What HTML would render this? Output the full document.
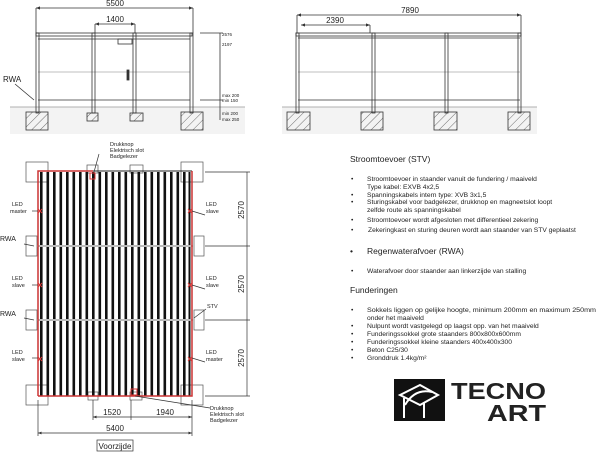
<!DOCTYPE html>
<html><head><meta charset="utf-8"><style>
body{margin:0;background:#fff;width:600px;height:454px;overflow:hidden}
svg{display:block}
text{font-family:"Liberation Sans",sans-serif;fill:#222}
</style></head><body>
<svg width="600" height="454" viewBox="0 0 600 454" xmlns="http://www.w3.org/2000/svg">
<defs>
<pattern id="h" width="6" height="6" patternUnits="userSpaceOnUse" patternTransform="rotate(45)"><line x1="0" y1="0" x2="0" y2="6" stroke="#333" stroke-width="0.7"/></pattern>
<marker id="a" markerWidth="6" markerHeight="6" refX="5" refY="3" orient="auto-start-reverse"><path d="M0,1 L5,3 L0,5" fill="#333"/></marker>
</defs>
<g stroke="#333" stroke-width="0.8" fill="none">
<rect x="10" y="107" width="235" height="27" fill="#f3f3f3" stroke="none"/>
<line x1="10" y1="107" x2="245" y2="107" stroke="#999"/>
<rect x="282" y="107" width="255" height="27" fill="#f3f3f3" stroke="none"/>
<line x1="282" y1="107" x2="537" y2="107" stroke="#999"/>
<rect x="36" y="33" width="156" height="3" fill="#fff"/>
<line x1="38" y1="39" x2="190" y2="39"/>
<line x1="38" y1="72" x2="190" y2="72" stroke="#aaa"/>
<line x1="38" y1="100" x2="190" y2="100"/>
<rect x="36" y="33" width="3" height="80"/><rect x="190" y="33" width="3" height="80"/>
<rect x="92" y="33" width="3" height="80"/><rect x="133" y="33" width="3" height="80"/>
<rect x="118" y="39" width="14" height="5"/>
<rect x="127" y="70" width="2" height="10" fill="#333"/>
<rect x="26" y="112" width="22" height="18" fill="url(#h)"/>
<rect x="181" y="112" width="22" height="18" fill="url(#h)"/>
<rect x="87" y="113" width="11" height="8" fill="url(#h)"/>
<rect x="130" y="113" width="13" height="8" fill="url(#h)"/>
<line x1="36" y1="8" x2="193" y2="8" marker-start="url(#a)" marker-end="url(#a)"/>
<line x1="36" y1="8" x2="36" y2="33"/><line x1="193" y1="8" x2="193" y2="33"/>
<line x1="95" y1="24" x2="135" y2="24" marker-start="url(#a)" marker-end="url(#a)"/>
<line x1="95" y1="24" x2="95" y2="33"/><line x1="135" y1="24" x2="135" y2="33"/>
<line x1="220" y1="33" x2="220" y2="120"/>
<line x1="200" y1="33" x2="223" y2="33"/><line x1="200" y1="100" x2="223" y2="100"/>
<line x1="15" y1="84" x2="34" y2="100"/>
<rect x="296" y="33" width="225" height="3" fill="#fff"/>
<line x1="298" y1="38" x2="520" y2="38"/>
<line x1="298" y1="72" x2="520" y2="72" stroke="#aaa"/>
<line x1="298" y1="100" x2="520" y2="100"/>
<rect x="296" y="33" width="3" height="80"/><rect x="372" y="33" width="3" height="80"/>
<rect x="445" y="33" width="3" height="80"/><rect x="518" y="33" width="3" height="80"/>
<rect x="287" y="112" width="23" height="18" fill="url(#h)"/>
<rect x="361" y="112" width="22" height="18" fill="url(#h)"/>
<rect x="434" y="112" width="23" height="18" fill="url(#h)"/>
<rect x="508" y="112" width="22" height="18" fill="url(#h)"/>
<line x1="297" y1="15" x2="521" y2="15" marker-start="url(#a)" marker-end="url(#a)"/>
<line x1="297" y1="15" x2="297" y2="33"/><line x1="521" y1="15" x2="521" y2="33"/>
<line x1="301" y1="25" x2="370" y2="25" marker-start="url(#a)" marker-end="url(#a)"/>
<line x1="370" y1="25" x2="370" y2="33"/>
</g>
<g font-size="8">
<text x="115" y="6" text-anchor="middle">5500</text>
<text x="115" y="22" text-anchor="middle">1400</text>
<text x="410" y="13" text-anchor="middle">7890</text>
<text x="335" y="23" text-anchor="middle">2390</text>
<text x="3" y="82">RWA</text>
</g>
<g font-size="4.5"><text x="222" y="36">2576</text><text x="222" y="46">2197</text>
<text x="222" y="97">max 200</text><text x="222" y="102">min 150</text>
<text x="222" y="115">min 200</text><text x="222" y="121">max 250</text></g>
<g stroke="#555" stroke-width="0.7" fill="#fff">
<rect x="26" y="162" width="22" height="20"/><rect x="181" y="162" width="22" height="20"/>
<rect x="26" y="236" width="11" height="20"/><rect x="194" y="236" width="10" height="20"/>
<rect x="26" y="310" width="11" height="20"/><rect x="194" y="310" width="10" height="20"/>
<rect x="26" y="385" width="22" height="20"/><rect x="181" y="385" width="22" height="20"/>
<rect x="87" y="165" width="11" height="8"/><rect x="130" y="165" width="13" height="8"/>
<rect x="88" y="392" width="10" height="8"/><rect x="130" y="392" width="12" height="8"/>
</g>
<g fill="#111">
<rect x="40" y="172" width="2.6" height="224"/><rect x="46.5" y="172" width="2.6" height="224"/><rect x="53" y="172" width="2.6" height="224"/><rect x="59.5" y="172" width="2.6" height="224"/><rect x="66" y="172" width="2.6" height="224"/><rect x="72.5" y="172" width="2.6" height="224"/><rect x="79" y="172" width="2.6" height="224"/><rect x="85.5" y="172" width="2.6" height="224"/><rect x="92" y="172" width="2.6" height="224"/><rect x="98.5" y="172" width="2.6" height="224"/><rect x="105" y="172" width="2.6" height="224"/><rect x="111.5" y="172" width="2.6" height="224"/><rect x="118" y="172" width="2.6" height="224"/><rect x="124.5" y="172" width="2.6" height="224"/><rect x="131" y="172" width="2.6" height="224"/><rect x="137.5" y="172" width="2.6" height="224"/><rect x="144" y="172" width="2.6" height="224"/><rect x="150.5" y="172" width="2.6" height="224"/><rect x="157" y="172" width="2.6" height="224"/><rect x="163.5" y="172" width="2.6" height="224"/><rect x="170" y="172" width="2.6" height="224"/><rect x="176.5" y="172" width="2.6" height="224"/><rect x="183" y="172" width="2.6" height="224"/><rect x="188.5" y="172" width="2" height="224"/>
</g>
<g stroke="#bbb" stroke-width="2"><line x1="37" y1="246" x2="193" y2="246"/><line x1="37" y1="320" x2="193" y2="320"/></g>
<g fill="none" stroke-width="1.5">
<path d="M38,396 L38,171 L93,171" stroke="#c33"/>
<path d="M93,171 L192,171" stroke="#222" stroke-width="1"/>
<path d="M192,171 L192,396 L38,396" stroke="#c33"/>
</g>
<g stroke="#d33" stroke-width="1"><path d="M38,209 l4,4 m0,-4 l-4,4"/><path d="M38,283 l4,4 m0,-4 l-4,4"/><path d="M38,357 l4,4 m0,-4 l-4,4"/>
<path d="M188,209 l4,4 m0,-4 l-4,4"/><path d="M188,283 l4,4 m0,-4 l-4,4"/><path d="M188,357 l4,4 m0,-4 l-4,4"/>
<rect x="90" y="173" width="5" height="6" fill="none"/><rect x="131" y="389" width="6" height="6" fill="none"/></g>
<g stroke="#333" stroke-width="0.7" fill="none">
<line x1="205" y1="172" x2="250" y2="172"/><line x1="205" y1="246" x2="250" y2="246"/><line x1="205" y1="320" x2="250" y2="320"/><line x1="205" y1="396" x2="250" y2="396"/>
<line x1="247" y1="172" x2="247" y2="396"/>
<line x1="93" y1="400" x2="93" y2="420"/><line x1="131" y1="400" x2="131" y2="420"/><line x1="192" y1="400" x2="192" y2="436"/><line x1="38" y1="400" x2="38" y2="436"/>
<line x1="93" y1="417" x2="192" y2="417" marker-start="url(#a)" marker-end="url(#a)"/>
<line x1="38" y1="433" x2="192" y2="433" marker-start="url(#a)" marker-end="url(#a)"/>
<line x1="94" y1="172" x2="99" y2="154"/><line x1="135" y1="396" x2="210" y2="408"/>
<line x1="32" y1="211" x2="38" y2="211"/><line x1="32" y1="285" x2="38" y2="285"/><line x1="32" y1="358" x2="38" y2="358"/>
<line x1="192" y1="211" x2="205" y2="215"/><line x1="192" y1="285" x2="205" y2="289"/><line x1="192" y1="358" x2="205" y2="362"/>
<line x1="24" y1="244" x2="34" y2="246"/><line x1="24" y1="318" x2="34" y2="320"/><line x1="194" y1="318" x2="206" y2="309"/>
<rect x="97" y="440" width="36" height="11"/>
</g>
<g font-size="5.5">
<text x="110" y="146">Drukknop</text><text x="110" y="152">Elektrisch slot</text><text x="110" y="158">Badgelezer</text>
<text x="210" y="410">Drukknop</text><text x="210" y="416">Elektrisch slot</text><text x="210" y="422">Badgelezer</text>
<text x="12" y="206">LED</text><text x="10" y="213">master</text>
<text x="12" y="280">LED</text><text x="12" y="287">slave</text>
<text x="12" y="354">LED</text><text x="12" y="361">slave</text>
<text x="206" y="206">LED</text><text x="206" y="213">slave</text>
<text x="206" y="280">LED</text><text x="206" y="287">slave</text>
<text x="206" y="354">LED</text><text x="206" y="361">master</text>
<text x="207" y="308">STV</text>
</g>
<g font-size="7"><text x="0" y="241">RWA</text><text x="0" y="316">RWA</text></g>
<g font-size="8">
<text transform="translate(244,210) rotate(-90)" text-anchor="middle">2570</text>
<text transform="translate(244,284) rotate(-90)" text-anchor="middle">2570</text>
<text transform="translate(244,358) rotate(-90)" text-anchor="middle">2570</text>
<text x="112" y="415" text-anchor="middle">1520</text>
<text x="165" y="415" text-anchor="middle">1940</text>
<text x="115" y="431" text-anchor="middle">5400</text>
<text x="115" y="449" text-anchor="middle">Voorzijde</text>
</g>
<g font-size="8.5"><text x="350" y="162">Stroomtoevoer (STV)</text><text x="350" y="293">Funderingen</text>
<text x="367" y="254">Regenwaterafvoer (RWA)</text><text x="350" y="254">•</text></g>
<g font-size="6.7">
<text x="351" y="181">•</text><text x="367" y="181">Stroomtoevoer in staander vanuit de fundering / maaiveld</text>
<text x="367" y="189">Type kabel: EXVB 4x2,5</text>
<text x="351" y="197">•</text><text x="367" y="197">Spanningskabels intern type: XVB 3x1,5</text>
<text x="351" y="204">•</text><text x="367" y="204">Sturingskabel voor badgelezer, drukknop en magneetslot loopt</text>
<text x="367" y="212">zelfde route als spanningskabel</text>
<text x="351" y="222">•</text><text x="367" y="222">Stroomtoevoer wordt afgesloten met differentieel zekering</text>
<text x="351" y="232">•</text><text x="368" y="232">Zekeringkast en sturing deuren wordt aan staander van STV geplaatst</text>
<text x="351" y="273">•</text><text x="367" y="273">Waterafvoer door staander aan linkerzijde van stalling</text>
<text x="351" y="312">•</text><text x="367" y="312" textLength="229" lengthAdjust="spacingAndGlyphs">Sokkels liggen op gelijke hoogte, minimum 200mm en maximum 250mm</text>
<text x="367" y="320">onder het maaiveld</text>
<text x="351" y="328">•</text><text x="367" y="328">Nulpunt wordt vastgelegd op laagst opp. van het maaiveld</text>
<text x="351" y="336">•</text><text x="367" y="336">Funderingssokkel grote staanders 800x800x600mm</text>
<text x="351" y="344">•</text><text x="367" y="344">Funderingssokkel kleine staanders 400x400x300</text>
<text x="351" y="352">•</text><text x="367" y="352">Beton C25/30</text>
<text x="351" y="360">•</text><text x="367" y="360">Gronddruk 1.4kg/m²</text>
</g>
<rect x="394" y="379" width="51" height="42" fill="#111"/>
<g stroke="#fff" stroke-width="2" fill="none"><path d="M400,395 L420,385 L438,395 L420,405 Z"/><path d="M405,405 Q415,388 432,392"/><line x1="404" y1="398" x2="404" y2="418"/><line x1="424" y1="402" x2="424" y2="418"/></g>
<text x="451" y="399" font-size="23" font-weight="bold" fill="#111" textLength="95" lengthAdjust="spacingAndGlyphs">TECNO</text>
<text x="487" y="421" font-size="23" font-weight="bold" fill="#111" textLength="59" lengthAdjust="spacingAndGlyphs">ART</text>
</svg>
</body></html>
